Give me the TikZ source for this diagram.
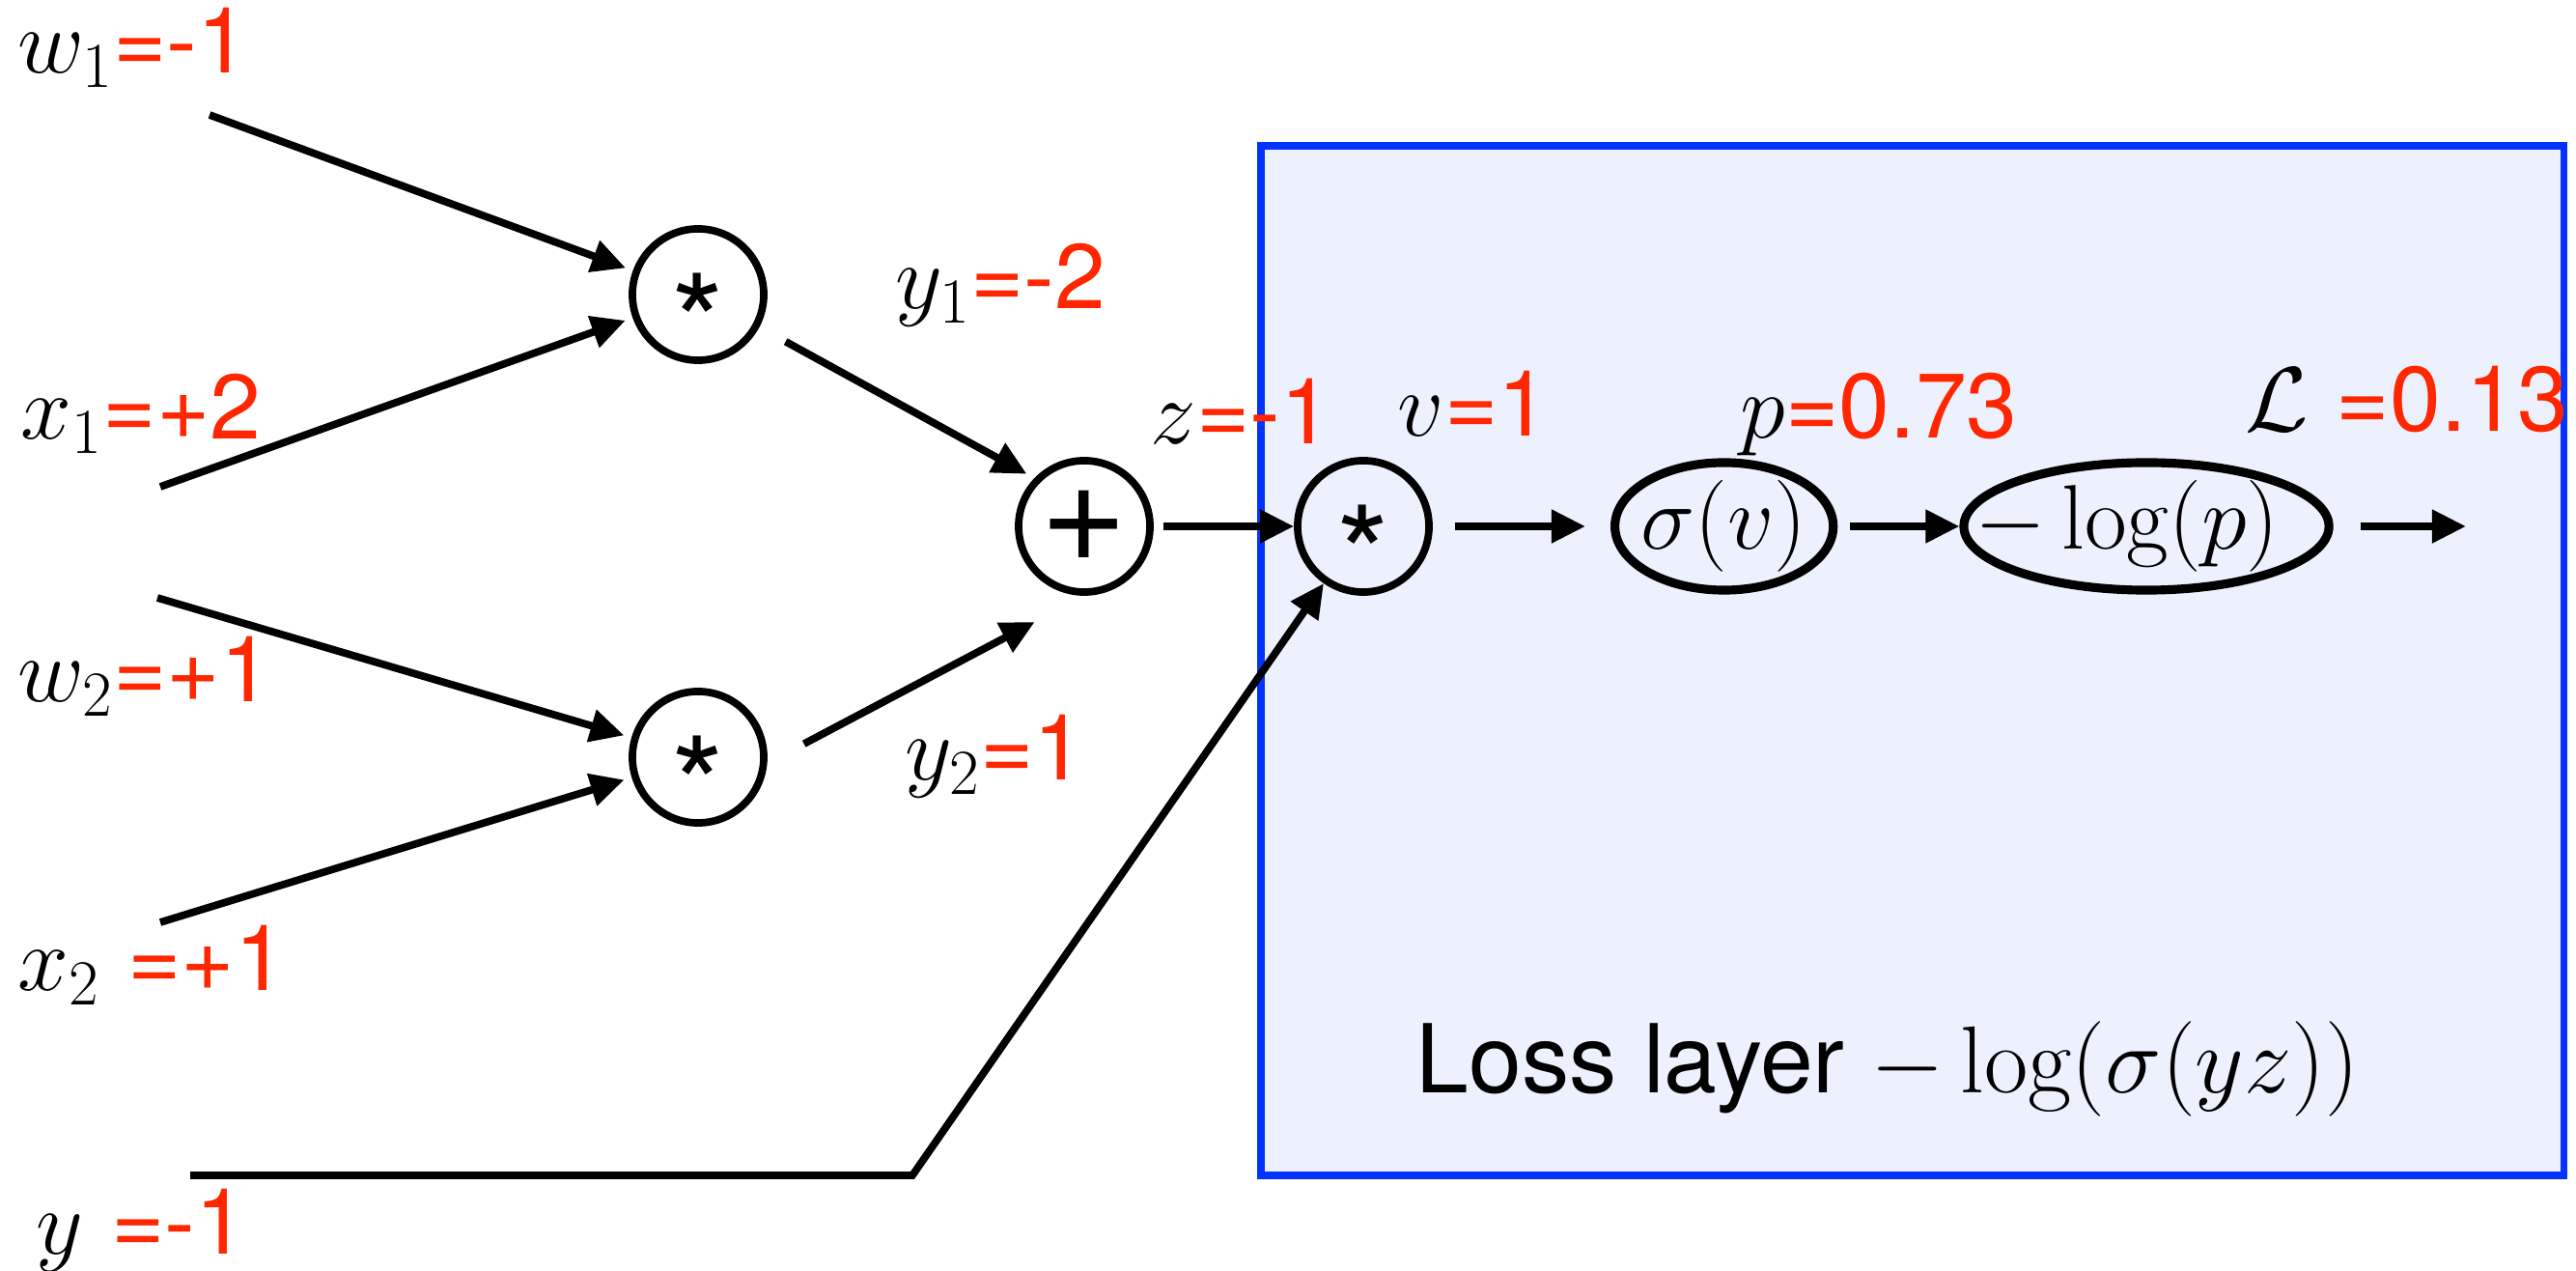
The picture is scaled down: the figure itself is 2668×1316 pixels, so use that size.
\RequirePackage{fix-cm}
\documentclass[tikz,border=0pt]{standalone}
\usepackage{amsmath}
\usepackage{fontspec}
\setsansfont{TeX Gyre Heros}
\usetikzlibrary{positioning, arrows.meta, shapes.geometric}

\definecolor{valred}{RGB}{255,38,0}
\definecolor{layerblue}{RGB}{4,51,255}
\definecolor{layerfill}{RGB}{237,240,253}
\newcommand{\val}[1]{\textcolor{valred}{\sffamily #1}}
\newcommand{\mul}{\smash{\raisebox{-0.57em}{*}}}

\begin{document}
\begin{tikzpicture}[
  x=0.01cm, y=-0.01cm,
  every node/.style={font=\fontsize{27}{32}\selectfont, inner sep=0pt},
  lbl/.style={anchor=base west},
  op/.style={circle, draw, line width=2.2pt, minimum size=1.36cm, font=\fontsize{40}{44}\selectfont\sffamily},
  oval/.style={ellipse, draw, line width=2.6pt, minimum height=1.32cm},
  arr/.style={-{Triangle[length=3.5mm, width=3.3mm]}, line width=2.2pt},
  layer/.style={draw=layerblue, fill=layerfill, line width=2pt}
]
  \useasboundingbox (0,0) rectangle (2668,1316);
  \draw[layer] (1306,151) rectangle (2655,1217);

  \node[op] (m1) at (723,305) {\mul};
  \node[op] (m2) at (723,784) {\mul};
  \node[op, font=\fontsize{44}{48}\selectfont\sffamily] (plus) at (1123,545) {+};
  \node[op] (mult) at (1412,545) {\mul};
  \node[oval, minimum width=2.26cm, right=1.84cm of mult, label=center:{$\sigma(v)$}] (sig) {};
  \node[oval, minimum width=3.78cm, right=1.26cm of sig, label={[xshift=-0.2cm]center:$-\log(p)$}] (nll) {};

  \coordinate (w1s) at (217,119);
  \coordinate (x1s) at (166,504);
  \coordinate (w2s) at (163,619);
  \coordinate (x2s) at (166,955);
  \coordinate (ys) at (197,1217);
  \coordinate (yb) at (945,1217);
  \coordinate (out) at (2554,545);

  \node[lbl] (w1) at (18,76) {$w_1$\val{=-1}};
  \node[lbl] (x1) at (21,455) {$x_1$\val{=+2}};
  \node[lbl] (w2) at (18,727) {$w_2$\val{=+1}};
  \node[lbl] (x2) at (18,1026) {$x_2$ \val{=+1}};
  \node[lbl] (y) at (37,1299) {$y$ \val{=-1}};
  \node[lbl] (y1) at (927,320) {$y_1$\val{=-2}};
  \node[lbl] (y2) at (937,808) {$y_2$\val{=1}};
  \node[lbl] (z) at (1191,460) {$z$\val{=-1}};
  \node[lbl] (v) at (1447,452) {$v$\val{=1}};
  \node[lbl] (p) at (1802,454) {$p$\val{=0.73}};
  \node[lbl] (L) at (2325,447) {$\mathcal{L}$ \val{=0.13}};
  \node[lbl, font=\fontsize{28}{32}\selectfont] (title) at (1466,1132) {\sffamily Loss layer $-\log(\sigma(yz))$};

  \draw[arr, shorten >=0.08cm] (w1s) -- (m1);
  \draw[arr, shorten >=0.08cm] (x1s) -- (m1);
  \draw[arr, shorten >=0.08cm] (w2s) -- (m2);
  \draw[arr, shorten >=0.08cm] (x2s) -- (m2);
  \draw[arr, shorten <=0.31cm, shorten >=0.09cm] (m1.-28) -- (plus.136);
  \draw[arr, shorten <=0.43cm, shorten >=0.58cm] (m2.-5) -- (plus.south);
  \draw[arr, shorten <=0.1cm] (plus) -- (mult);
  \draw[arr, shorten <=0.23cm, shorten >=0.26cm] (mult) -- (sig);
  \draw[arr, shorten <=0.13cm] (sig) -- (nll);
  \draw[arr, shorten <=0.28cm] (nll) -- (out);
  \draw[arr] (ys) -- (yb) -- (mult);
\end{tikzpicture}
\end{document}
